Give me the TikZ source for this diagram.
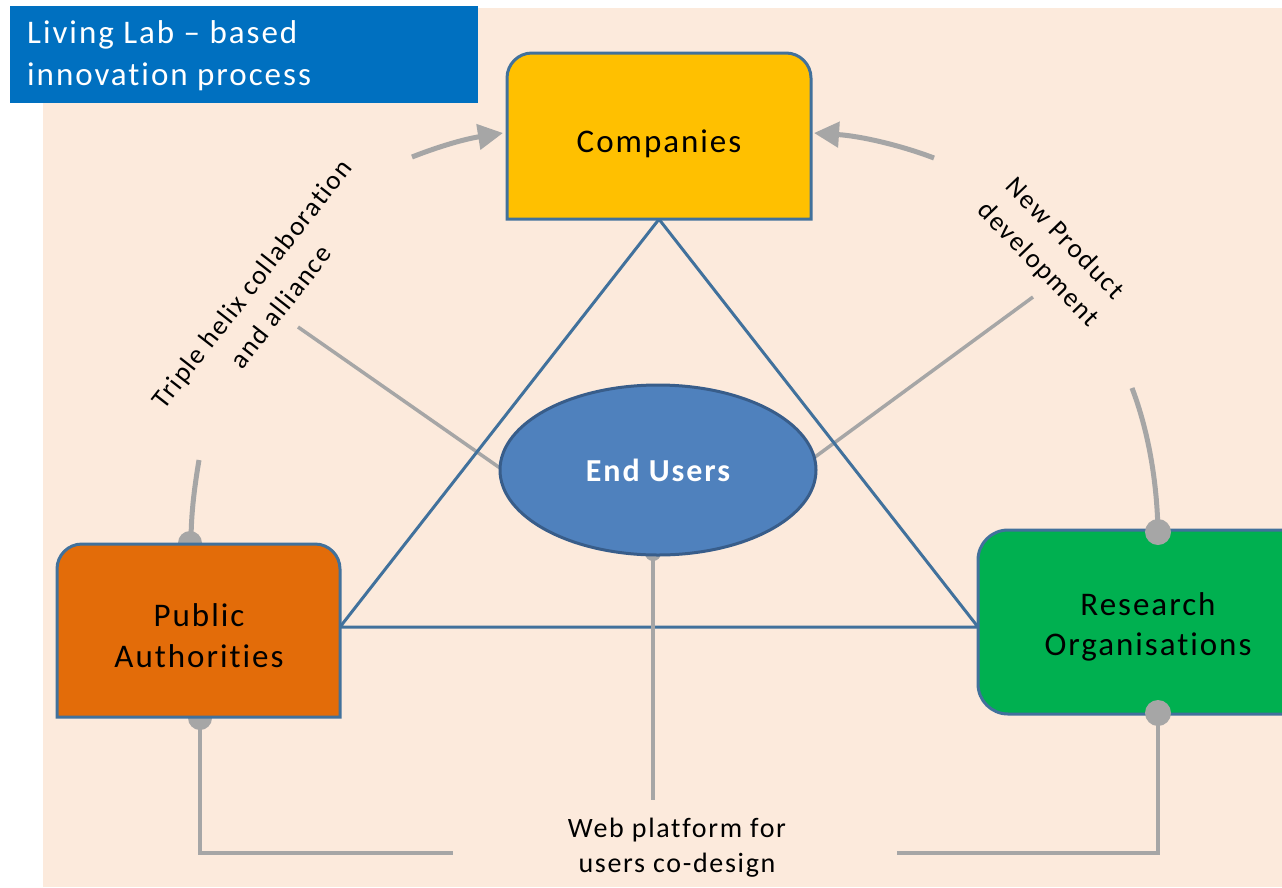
\documentclass[tikz,border=0pt]{standalone}
\usepackage{fontspec}
\setmainfont{Carlito}[LetterSpace=6,Ligatures={NoCommon}]
\usetikzlibrary{shapes.geometric,arrows.meta}
\definecolor{peach}{HTML}{FCEADC}
\definecolor{titleblue}{HTML}{0070C0}
\definecolor{edgeblue}{HTML}{41719C}
\definecolor{compfill}{HTML}{FFC000}
\definecolor{pubfill}{HTML}{E36C09}
\definecolor{resfill}{HTML}{00B050}
\definecolor{userfill}{HTML}{4F81BD}
\definecolor{useredge}{HTML}{385D8A}
\definecolor{conn}{HTML}{A6A6A6}
\begin{document}
\begin{tikzpicture}[x=1pt,y=-1pt,
  boxedge/.style={draw=edgeblue,line width=3},
  boxtext/.style={font=\fontsize{33}{40}\selectfont,align=center,text=black,inner sep=0},
  sidetext/.style={font=\fontsize{27}{37}\selectfont,align=center,text=black,inner sep=0},
  graylink/.style={draw=conn,line width=4},
  arcline/.style={draw=conn,line width=5},
  arrowline/.style={draw=conn,line width=5,-{Triangle[length=25pt,width=25pt]}},
  tri/.style={draw=edgeblue,line width=3},
  dot/.style={fill=conn}
]
\useasboundingbox (0,0) rectangle (1282,887);
\fill[white] (0,0) rectangle (1282,887);
\fill[peach] (43,8) rectangle (1282,887);

% title
\fill[titleblue] (10,6) rectangle (478,103);
\node[anchor=west,inner sep=0,align=left,text=white,font=\fontsize{33}{42}\selectfont] (title) at (27,56) {Living Lab -- based\\innovation process};

% shape placeholders (names)
\node[minimum width=304,minimum height=166,inner sep=0] (companies) at (659,136) {};
\node[minimum width=283,minimum height=173,inner sep=0] (public) at (198.5,630.5) {};
\node[minimum width=340,minimum height=184,inner sep=0] (research) at (1148,622) {};
\coordinate (apexL) at (340,627);
\coordinate (apexR) at (978,627);

% label link lines
\coordinate (helixend) at (298,327);
\coordinate (newend) at (1033,297);
\draw[graylink,line width=3.5] (helixend) -- (500,468);
\draw[graylink,line width=3.5] (newend) -- (815,457);

% triangle
\draw[tri] (companies.south) -- (apexL) -- (apexR) -- cycle;

% dots behind boxes / ellipse
\fill[dot] (190,543) circle[radius=12];
\fill[dot] (200,718) circle[radius=12];
\fill[dot] (653,553) circle[radius=8];

% vertical web line
\coordinate (webtop) at (653,800);
\draw[graylink] (653,553) -- (webtop);

% brackets
\coordinate (bl) at (453,853);
\coordinate (br) at (897,853);
\draw[graylink] (200,717) |- (bl);
\draw[graylink] (1158,714) |- (br);

% curved connectors
\draw[arcline] (199,460) .. controls (194,490) and (191,515) .. (191,543);
\draw[arcline] (1132,388) .. controls (1148,430) and (1157,480) .. (1158,532);
\draw[arrowline] (412,157) .. controls (440,146) and (465,139) .. (503,133);
\draw[arrowline] (934,158) .. controls (900,145) and (860,136) .. (814,133);

% boxes
\filldraw[fill=compfill,boxedge] (507,219) -- (507,78) arc[start angle=180,end angle=270,radius=25] -- (786,53) arc[start angle=270,end angle=360,radius=25] -- (811,219) -- cycle;
\filldraw[fill=pubfill,boxedge] (57,717) -- (57,569) arc[start angle=180,end angle=270,radius=25] -- (315,544) arc[start angle=270,end angle=360,radius=25] -- (340,717) -- cycle;
\filldraw[fill=resfill,boxedge,rounded corners=30pt] (978,530) rectangle (1318,714);

% research dots on top
\fill[dot] (1158,532) circle[radius=13];
\fill[dot] (1158,713) circle[radius=13];

% ellipse
\node[ellipse,draw=useredge,line width=3,fill=userfill,minimum width=316,minimum height=170,inner sep=0,
  text=white,font=\bfseries\fontsize{32}{38}\selectfont] (users) at (658,470) {End Users};

% texts
\node[boxtext,anchor=base] (comptext) at (659,152) {Companies};
\node[boxtext,font=\fontsize{33}{41}\selectfont] (pubtext) at (199,636) {Public\\Authorities};
\node[boxtext,font=\fontsize{33}{40}\selectfont] (restext) at (1148,627) {Research\\Organisations};
\node[sidetext,rotate=52] (helix) at (266,295) {Triple helix collaboration\\and alliance};
\node[sidetext,rotate=-46] (newprod) at (1051,252) {New Product\\development};
\node[sidetext,font=\fontsize{28}{35}\selectfont] (web) at (677,848) {Web platform for\\users co-design};
\end{tikzpicture}
\end{document}
